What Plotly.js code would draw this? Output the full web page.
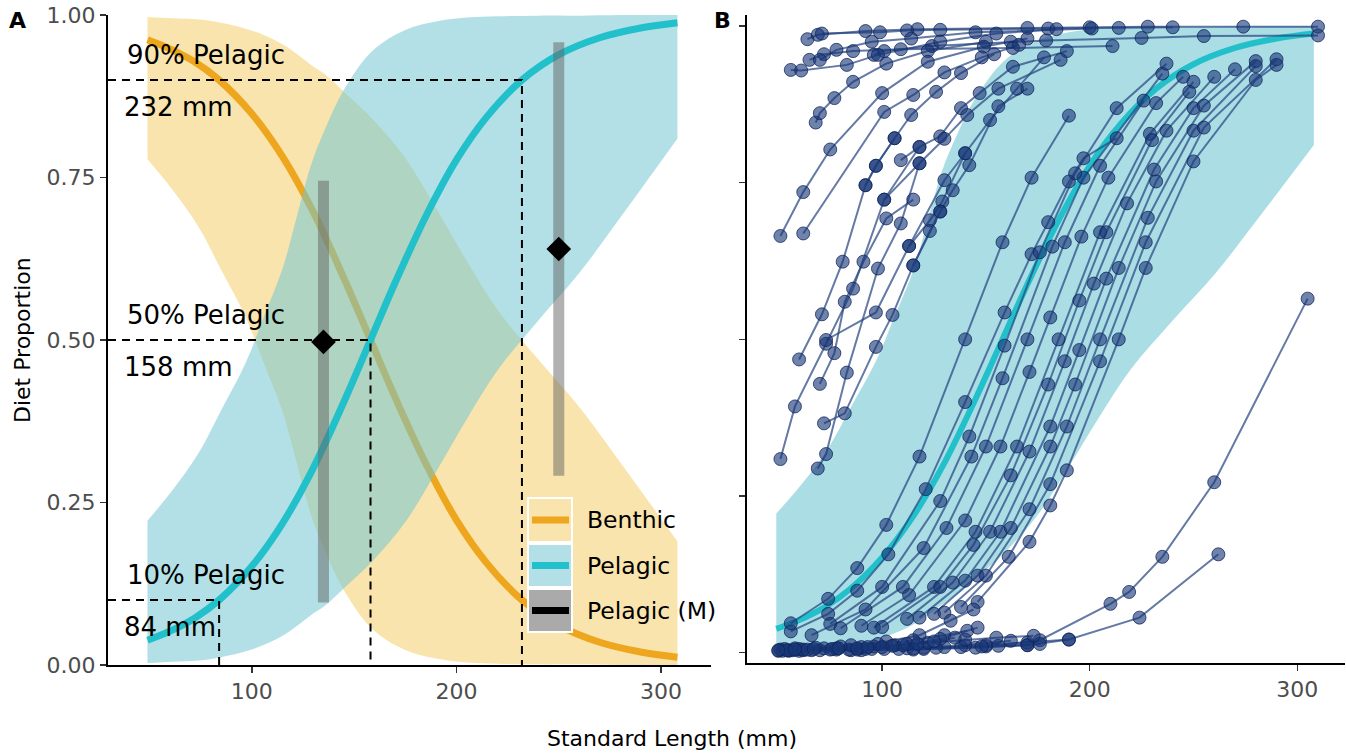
<!DOCTYPE html>
<html><head><meta charset="utf-8">
<script src="https://cdn.plot.ly/plotly-3.0.1.min.js"></script>
<style>html,body{margin:0;padding:0;background:#fff}#chart{width:1346px;height:755px}</style>
</head><body><div id="chart"></div>
<script>
// ---------- Panel A data ----------
const lineX = [49, 60, 72, 84, 100, 115, 130, 145, 158, 170, 185, 200, 215, 232, 250, 270, 290, 308];
const pelagicMean = [0.038, 0.052, 0.072, 0.100, 0.152, 0.218, 0.303, 0.405, 0.500, 0.588, 0.690, 0.777, 0.844, 0.900, 0.939, 0.965, 0.980, 0.988];
const benthicMean = [0.962, 0.948, 0.928, 0.900, 0.848, 0.782, 0.697, 0.595, 0.500, 0.412, 0.310, 0.223, 0.156, 0.100, 0.061, 0.035, 0.020, 0.012];

const ribbonX = [49, 61, 74, 85, 97, 106, 115, 122, 129, 136, 145, 159, 175, 190, 205, 220, 240, 260, 280, 308];
const pelUpper = [0.222, 0.268, 0.326, 0.392, 0.465, 0.537, 0.610, 0.690, 0.770, 0.826, 0.885, 0.945, 0.977, 0.990, 0.996, 0.998, 0.999, 0.999, 1.000, 1.000];
const pelLower = [0.003, 0.005, 0.007, 0.012, 0.021, 0.031, 0.045, 0.060, 0.077, 0.092, 0.118, 0.160, 0.220, 0.297, 0.378, 0.453, 0.530, 0.603, 0.688, 0.810];
const benUpper = [0.997, 0.995, 0.993, 0.988, 0.979, 0.969, 0.955, 0.940, 0.923, 0.908, 0.882, 0.840, 0.780, 0.703, 0.622, 0.547, 0.470, 0.397, 0.312, 0.190];
const benLower = [0.778, 0.732, 0.674, 0.608, 0.535, 0.463, 0.390, 0.310, 0.230, 0.174, 0.115, 0.055, 0.023, 0.010, 0.004, 0.002, 0.001, 0.001, 0.000, 0.000];

const thresholdLength = [232, 158, 84];
const thresholdProp = [0.9, 0.5, 0.1];
const thresholdLabels = ["90% Pelagic", "50% Pelagic", "10% Pelagic"];
const lengthLabels = ["232 mm", "158 mm", "84 mm"];

const mLength = [135, 250];
const mMean = [0.497, 0.640];
const mLow = [0.096, 0.291];
const mHigh = [0.745, 0.958];

// ---------- Panel B data (individual trajectories) ----------
const upperX = [
 [64, 69, 92, 117, 170, 200, 228, 274, 310],
 [71, 99, 112, 128, 180, 214, 240],
 [96, 101, 124, 162, 179, 225, 255, 310],
 [56, 61, 83, 98, 128, 155, 184],
 [65, 72, 86, 109, 163, 211],
 [70, 78, 95, 114, 145, 201],
 [68, 70, 77, 86, 102, 122, 150],
 [51, 62, 75, 100, 122, 149, 170],
 [62, 101, 115, 130, 148, 166],
 [92, 97, 106, 114, 126, 138, 154],
 [109, 118, 128, 138, 147, 163, 189],
 [101, 118, 130, 141, 156, 186],
 [113, 123, 129, 140, 152, 165, 178],
 [115, 128, 134, 142, 156, 170]
];
const upperY = [
 [0.979, 0.986, 0.992, 0.995, 0.997, 0.998, 0.999, 0.999, 0.999],
 [0.988, 0.990, 0.993, 0.994, 0.996, 0.997, 0.998],
 [0.954, 0.960, 0.968, 0.975, 0.977, 0.981, 0.984, 0.985],
 [0.930, 0.929, 0.938, 0.954, 0.975, 0.988, 0.995],
 [0.946, 0.955, 0.960, 0.963, 0.965, 0.968],
 [0.946, 0.962, 0.975, 0.980, 0.990, 0.996],
 [0.846, 0.861, 0.885, 0.911, 0.940, 0.960, 0.975],
 [0.665, 0.735, 0.803, 0.893, 0.943, 0.967, 0.980],
 [0.669, 0.863, 0.890, 0.926, 0.950, 0.970],
 [0.746, 0.777, 0.821, 0.858, 0.895, 0.925, 0.955],
 [0.786, 0.807, 0.824, 0.869, 0.893, 0.935, 0.960],
 [0.723, 0.781, 0.820, 0.858, 0.900, 0.946],
 [0.649, 0.690, 0.720, 0.797, 0.850, 0.900, 0.950],
 [0.618, 0.704, 0.738, 0.778, 0.872, 0.900]
];
const midX = [
 [51, 58, 73, 86, 101, 118],
 [60, 71, 81, 92, 97, 106],
 [69, 73, 83, 98, 109, 118],
 [70, 77, 82, 91, 102, 115],
 [72, 82, 97, 105, 115, 123, 128],
 [73, 97, 113, 130, 140]
];
const midY = [
 [0.309, 0.393, 0.493, 0.581, 0.723, 0.807],
 [0.468, 0.540, 0.624, 0.746, 0.777, 0.821],
 [0.294, 0.317, 0.447, 0.613, 0.685, 0.781],
 [0.429, 0.478, 0.560, 0.624, 0.693, 0.723],
 [0.366, 0.382, 0.488, 0.539, 0.618, 0.673, 0.704],
 [0.499, 0.543, 0.649, 0.754, 0.797]
];
const rightX = [
 [56, 74, 88, 103, 121, 140, 159, 172, 180, 190, 197, 213],
 [56, 74, 88, 102, 118, 140, 158, 172, 190],
 [66, 92, 120, 143, 158, 182, 197, 235],
 [75, 100, 128, 142, 159, 176, 193, 213, 237],
 [80, 110, 131, 150, 170, 188, 205, 226],
 [90, 113, 140, 157, 171, 181, 196, 209, 232, 245],
 [96, 125, 145, 165, 185, 205, 229, 250],
 [100, 128, 144, 162, 180, 195, 208, 230, 248],
 [112, 134, 152, 171, 188, 202, 218, 237, 260],
 [118, 140, 157, 181, 195, 208, 231, 250, 270],
 [125, 146, 162, 181, 193, 214, 232, 255, 280],
 [130, 150, 171, 189, 205, 228, 250, 280],
 [138, 161, 181, 205, 227, 255, 290],
 [146, 171, 181, 189, 214, 227, 250, 280, 290]
];
const rightY = [
 [0.034, 0.062, 0.099, 0.157, 0.261, 0.400, 0.543, 0.636, 0.687, 0.752, 0.789, 0.821],
 [0.047, 0.086, 0.135, 0.204, 0.313, 0.500, 0.655, 0.758, 0.857],
 [0.028, 0.069, 0.167, 0.313, 0.438, 0.648, 0.758, 0.924],
 [0.046, 0.105, 0.242, 0.345, 0.490, 0.639, 0.765, 0.869, 0.940],
 [0.039, 0.105, 0.199, 0.329, 0.500, 0.655, 0.777, 0.881],
 [0.043, 0.092, 0.211, 0.329, 0.448, 0.535, 0.664, 0.758, 0.877, 0.919],
 [0.040, 0.105, 0.193, 0.329, 0.500, 0.671, 0.828, 0.911],
 [0.041, 0.105, 0.172, 0.283, 0.428, 0.562, 0.671, 0.818, 0.895],
 [0.054, 0.112, 0.193, 0.321, 0.465, 0.589, 0.717, 0.833, 0.919],
 [0.056, 0.115, 0.193, 0.361, 0.483, 0.597, 0.771, 0.869, 0.931],
 [0.062, 0.123, 0.199, 0.329, 0.428, 0.614, 0.752, 0.873, 0.944],
 [0.064, 0.123, 0.229, 0.361, 0.500, 0.694, 0.833, 0.936],
 [0.073, 0.153, 0.269, 0.465, 0.655, 0.838, 0.947],
 [0.081, 0.177, 0.235, 0.291, 0.500, 0.614, 0.784, 0.914, 0.938]
];
const bottomX = [
 [60, 90, 120, 150, 176, 210, 219, 235, 260, 305],
 [55, 85, 115, 145, 170, 190, 224, 262],
 [50, 62, 78, 95, 112, 130, 150, 170, 190],
 [52, 66, 84, 101, 120, 140, 162],
 [55, 70, 88, 108, 126, 148, 170],
 [57, 75, 92, 115, 138, 156, 176],
 [51, 60, 72, 90, 106, 122, 140, 155, 173],
 [53, 68, 85, 102, 118, 133, 144],
 [58, 80, 98, 115, 130, 141],
 [62, 78, 96, 112, 128, 146],
 [54, 64, 76, 88, 100, 110, 125, 135],
 [50, 58, 67, 79, 93, 105, 117]
];
const bottomY = [
 [0.003, 0.004, 0.006, 0.010, 0.020, 0.078, 0.097, 0.153, 0.272, 0.565],
 [0.003, 0.004, 0.005, 0.008, 0.012, 0.021, 0.056, 0.157],
 [0.003, 0.004, 0.005, 0.006, 0.007, 0.009, 0.012, 0.016, 0.021],
 [0.003, 0.004, 0.005, 0.006, 0.008, 0.012, 0.019],
 [0.004, 0.004, 0.005, 0.006, 0.008, 0.010, 0.012],
 [0.004, 0.005, 0.006, 0.007, 0.009, 0.011, 0.014],
 [0.005, 0.006, 0.007, 0.009, 0.012, 0.016, 0.021, 0.024, 0.027],
 [0.006, 0.008, 0.012, 0.018, 0.028, 0.051, 0.069],
 [0.007, 0.010, 0.014, 0.020, 0.028, 0.035],
 [0.005, 0.007, 0.010, 0.014, 0.022, 0.040],
 [0.004, 0.005, 0.006, 0.007, 0.009, 0.012, 0.018, 0.024],
 [0.004, 0.005, 0.006, 0.007, 0.009, 0.011, 0.014]
];

// ---------- styling ----------
const W = 1346, H = 755;
const FONT = "DejaVu Sans, Liberation Sans, Arial, sans-serif";
const ORANGE = "#EDA61E", TEAL = "#22C0CA";
const YELLOW_FILL = "rgba(243,201,91,0.5)", BLUE_FILL = "rgba(115,199,210,0.55)";
const xA = [29.7, 324.4], yA = [0, 1];
const xB = [34.9, 323], yB = [-0.0164, 1.0176];
const pxX = v => v / W, pxY = v => 1 - v / H;

function joinGroups(xs, ys) {
  const X = [], Y = [];
  xs.forEach((arr, i) => { arr.forEach((v, j) => { X.push(v); Y.push(ys[i][j]); }); X.push(null); Y.push(null); });
  return {X, Y};
}

const traces = [];
// Panel A: benthic ribbon, benthic line, pelagic ribbon, pelagic line
traces.push({x: ribbonX, y: benLower, mode: "lines", line: {width: 0, shape: "spline"}, xaxis: "x", yaxis: "y"});
traces.push({x: ribbonX, y: benUpper, mode: "lines", line: {width: 0, shape: "spline"}, fill: "tonexty", fillcolor: YELLOW_FILL, xaxis: "x", yaxis: "y"});
traces.push({x: lineX, y: benthicMean, mode: "lines", line: {color: ORANGE, width: 7, shape: "spline"}, xaxis: "x", yaxis: "y"});
traces.push({x: ribbonX, y: pelLower, mode: "lines", line: {width: 0, shape: "spline"}, xaxis: "x", yaxis: "y"});
traces.push({x: ribbonX, y: pelUpper, mode: "lines", line: {width: 0, shape: "spline"}, fill: "tonexty", fillcolor: BLUE_FILL, xaxis: "x", yaxis: "y"});
traces.push({x: lineX, y: pelagicMean, mode: "lines", line: {color: TEAL, width: 7, shape: "spline"}, xaxis: "x", yaxis: "y"});
// thresholds
thresholdLength.forEach((L, i) => {
  traces.push({x: [xA[0], L, L], y: [thresholdProp[i], thresholdProp[i], 0], mode: "lines",
    line: {color: "black", width: 2, dash: "8px,6px"}, xaxis: "x", yaxis: "y"});
});
// Pelagic (M) bars and diamonds
mLength.forEach((L, i) => {
  traces.push({x: [L, L], y: [mLow[i], mHigh[i]], mode: "lines", line: {color: "rgba(100,100,100,0.5)", width: 11}, xaxis: "x", yaxis: "y"});
});
traces.push({x: mLength, y: mMean, mode: "markers", marker: {symbol: "diamond", size: 19, color: "black"}, xaxis: "x", yaxis: "y"});

// Panel B ribbon + mean
traces.push({x: ribbonX, y: pelLower, mode: "lines", line: {width: 0, shape: "spline"}, xaxis: "x2", yaxis: "y2"});
traces.push({x: ribbonX, y: pelUpper, mode: "lines", line: {width: 0, shape: "spline"}, fill: "tonexty", fillcolor: "rgba(101,193,205,0.55)", xaxis: "x2", yaxis: "y2"});
traces.push({x: lineX, y: pelagicMean, mode: "lines", line: {color: TEAL, width: 6, shape: "spline"}, xaxis: "x2", yaxis: "y2"});
// trajectories
[[upperX, upperY], [midX, midY], [rightX, rightY], [bottomX, bottomY]].forEach(([gx, gy]) => {
  const g = joinGroups(gx, gy);
  traces.push({x: g.X, y: g.Y, mode: "lines+markers", connectgaps: false,
    line: {color: "rgba(40,70,130,0.72)", width: 2},
    marker: {size: 13, color: "rgba(24,55,120,0.62)", line: {color: "rgba(15,35,90,0.75)", width: 1}},
    xaxis: "x2", yaxis: "y2"});
});
traces.forEach(t => { t.showlegend = false; t.hoverinfo = "skip"; });

const axisBase = {showline: true, linecolor: "black", linewidth: 2, ticks: "outside", ticklen: 6, tickwidth: 1.5,
  tickcolor: "#333", showgrid: false, zeroline: false, tickfont: {family: FONT, size: 22, color: "#4D4D4D"}};
const yTicks = [0, 0.25, 0.5, 0.75, 1];
const yTickText = ["0.00", "0.25", "0.50", "0.75", "1.00"];

const annotations = [];
thresholdLength.forEach((L, i) => {
  annotations.push({xref: "x", yref: "y", x: 38, y: thresholdProp[i] + 0.038, text: thresholdLabels[i], showarrow: false,
    xanchor: "left", yanchor: "middle", font: {family: FONT, size: 26, color: "black"}});
  annotations.push({xref: "x", yref: "y", x: 36.5, y: thresholdProp[i] - 0.042, text: lengthLabels[i], showarrow: false,
    xanchor: "left", yanchor: "middle", font: {family: FONT, size: 26, color: "black"}});
});
annotations.push({xref: "paper", yref: "paper", x: pxX(17), y: pxY(21), text: "<b>A</b>", showarrow: false, xanchor: "center", yanchor: "middle", font: {family: FONT, size: 22, color: "black"}});
annotations.push({xref: "paper", yref: "paper", x: pxX(722), y: pxY(21), text: "<b>B</b>", showarrow: false, xanchor: "center", yanchor: "middle", font: {family: FONT, size: 22, color: "black"}});
annotations.push({xref: "paper", yref: "paper", x: pxX(672), y: pxY(738), text: "Standard Length (mm)", showarrow: false, xanchor: "center", yanchor: "middle", font: {family: FONT, size: 22, color: "black"}});
annotations.push({xref: "paper", yref: "paper", x: pxX(22), y: pxY(340), text: "Diet Proportion", textangle: -90, showarrow: false, xanchor: "center", yanchor: "middle", font: {family: FONT, size: 22, color: "black"}});

// legend (manual)
const legendNames = ["Benthic", "Pelagic", "Pelagic (M)"];
const legendFill = ["#F9E4AD", "#B2E0E6", "#AAAAAA"];
const legendLine = [ORANGE, TEAL, "black"];
const legendTop = [498, 544, 589], legendBottom = [542, 587, 632];
const shapes = [];
legendNames.forEach((n, i) => {
  shapes.push({type: "rect", xref: "paper", yref: "paper", x0: pxX(528), x1: pxX(572), y0: pxY(legendBottom[i]), y1: pxY(legendTop[i]),
    fillcolor: legendFill[i], line: {color: "white", width: 2}});
  const cy = (legendTop[i] + legendBottom[i]) / 2;
  shapes.push({type: "line", xref: "paper", yref: "paper", x0: pxX(532), x1: pxX(569), y0: pxY(cy), y1: pxY(cy),
    line: {color: legendLine[i], width: 7}});
  annotations.push({xref: "paper", yref: "paper", x: pxX(585), y: pxY(cy), text: n, showarrow: false, xanchor: "left", yanchor: "middle",
    font: {family: FONT, size: 23.5, color: "black"}});
});

const layout = {
  width: W, height: H, margin: {l: 0, r: 0, t: 0, b: 0}, paper_bgcolor: "white", plot_bgcolor: "white",
  showlegend: false, hovermode: false, font: {family: FONT},
  xaxis: Object.assign({}, axisBase, {domain: [108 / W, 711 / W], range: xA, tickvals: [100, 200, 300], anchor: "y"}),
  yaxis: Object.assign({}, axisBase, {domain: [1 - 665 / H, 1 - 15 / H], range: yA, tickvals: yTicks, ticktext: yTickText, anchor: "x"}),
  xaxis2: Object.assign({}, axisBase, {domain: [747 / W, 1345 / W], range: xB, tickvals: [100, 200, 300], anchor: "y2"}),
  yaxis2: Object.assign({}, axisBase, {domain: [1 - 663 / H, 1 - 15 / H], range: yB, tickvals: yTicks, showticklabels: false, anchor: "x2"}),
  annotations: annotations, shapes: shapes
};
Plotly.newPlot("chart", traces, layout, {staticPlot: true, displayModeBar: false});
</script></body></html>
